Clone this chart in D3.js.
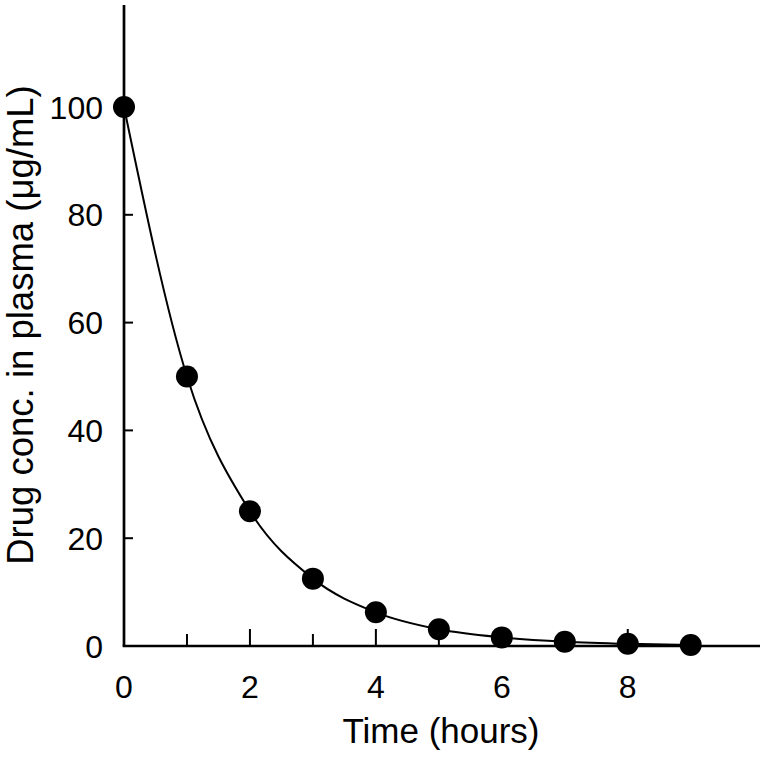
<!DOCTYPE html>
<html><head><meta charset="utf-8">
<script src="https://cdn.jsdelivr.net/npm/d3@7"></script>
<style>body{margin:0;background:#fff}svg{display:block}text{font-family:"Liberation Sans",Arial,sans-serif;fill:#000}</style>
</head><body><svg id="c" width="768" height="760"></svg>
<script>
const hours = [0,1,2,3,4,5,6,7,8,9];
const conc = [100,50,25,12.5,6.25,3.1,1.6,0.8,0.4,0.2];
const xTicks = [0,1,2,3,4,5,6,7,8,9];
const xLabels = [0,2,4,6,8];
const yTicks = [0,20,40,60,80,100];

const svg = d3.select("#c");
const x = d3.scaleLinear().domain([0,10.1]).range([124,760]);
const y = d3.scaleLinear().domain([0,100]).range([646,107]);
const yTop = 5;

svg.append("line").attr("x1",x(0)).attr("x2",x(0)).attr("y1",yTop).attr("y2",y(0)).attr("stroke","#000").attr("stroke-width",2.7);
svg.append("line").attr("x1",x(0)-1.35).attr("x2",x(10.1)).attr("y1",y(0)).attr("y2",y(0)).attr("stroke","#000").attr("stroke-width",2.7);

svg.selectAll(".xt").data(xTicks.filter(d=>d>0)).enter().append("line")
  .attr("x1",d=>x(d)).attr("x2",d=>x(d)).attr("y1",y(0)).attr("y2",d=>y(0)-(d%2===0?17:12))
  .attr("stroke","#000").attr("stroke-width",2);
svg.selectAll(".xl").data(xLabels).enter().append("text")
  .attr("x",d=>x(d)).attr("y",698).attr("text-anchor","middle").attr("font-size",32).text(d=>d);

svg.selectAll(".yt").data(yTicks.filter(d=>d>0)).enter().append("line")
  .attr("x1",x(0)).attr("x2",x(0)+9).attr("y1",d=>y(d)).attr("y2",d=>y(d))
  .attr("stroke","#000").attr("stroke-width",2);
svg.selectAll(".yl").data(yTicks).enter().append("text")
  .attr("x",103).attr("y",d=>y(d)).attr("dy","0.36em").attr("text-anchor","end").attr("font-size",32).text(d=>d);

svg.append("text").attr("x",441).attr("y",743).attr("text-anchor","middle").attr("font-size",35).text("Time (hours)");
svg.append("text").attr("transform","translate(33,325) rotate(-90)").attr("text-anchor","middle").attr("font-size",36.5).text("Drug conc. in plasma (\u03bcg/mL)");

const pts = hours.map((h,i)=>[h,conc[i]]);
svg.append("path").datum(pts)
  .attr("d",d3.line().x(d=>x(d[0])).y(d=>y(d[1])).curve(d3.curveMonotoneX))
  .attr("fill","none").attr("stroke","#000").attr("stroke-width",2);

svg.selectAll(".pt").data(pts).enter().append("circle")
  .attr("cx",d=>x(d[0])).attr("cy",d=>y(d[1])).attr("r",11).attr("fill","#000");
</script></body></html>
